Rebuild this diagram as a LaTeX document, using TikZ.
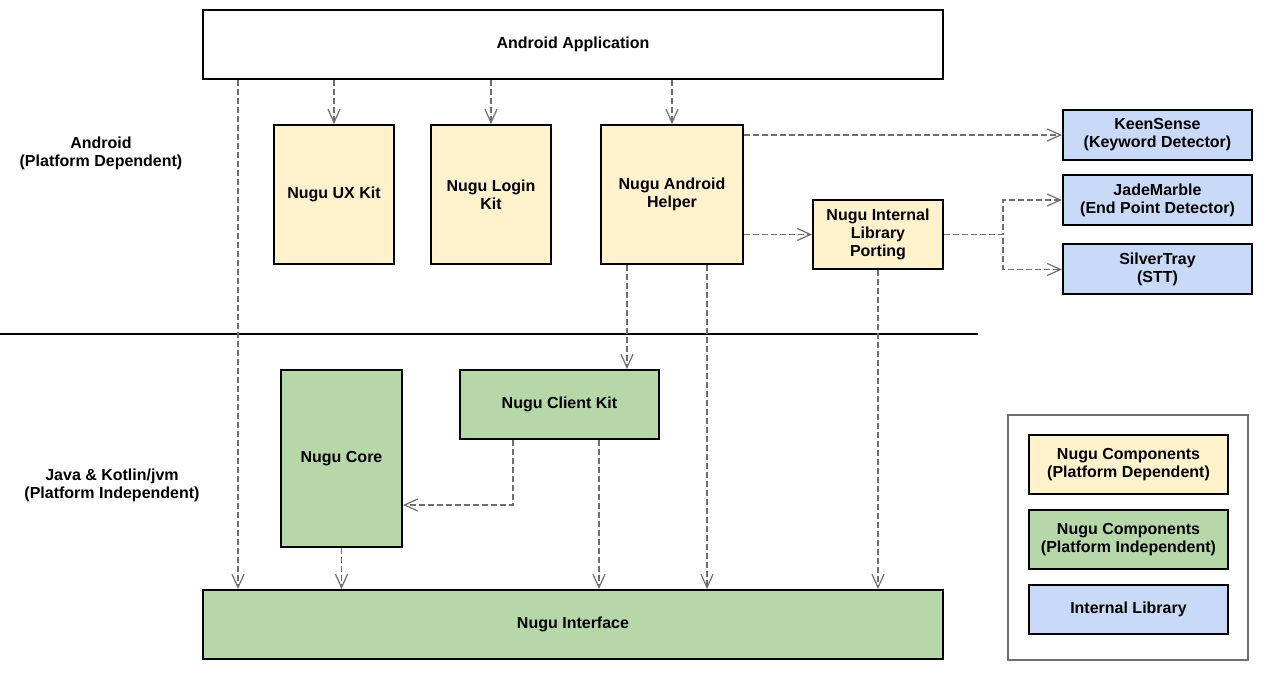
\documentclass[tikz,border=0pt]{standalone}
\usepackage{fontspec}
\setmainfont{Liberation Sans}
\usepackage{tikz}
\usetikzlibrary{arrows.meta, positioning, calc}
\usepackage{xcolor}
\definecolor{depyellow}{RGB}{255, 242, 204}
\definecolor{indepgreen}{RGB}{182, 215, 168}
\definecolor{libblue}{RGB}{201, 218, 248}
\definecolor{linkgray}{RGB}{110, 110, 110}

\begin{document}
\begin{tikzpicture}[
    x=0.75pt, y=-0.75pt,
    box/.style={rectangle, draw=black, line width=1.5pt, align=center, font=\fontsize{12}{13.5}\selectfont\bfseries, inner sep=2pt},
    plain/.style={box, fill=white},
    dep/.style={box, fill=depyellow},
    indep/.style={box, fill=indepgreen},
    lib/.style={box, fill=libblue},
    layer/.style={align=center, font=\fontsize{12}{13.5}\selectfont\bfseries},
    link/.style={draw=linkgray, line width=0.9pt, dash pattern=on 4.5pt off 2.25pt, -{Straight Barb[length=10pt, width=9pt]}}
]
    \useasboundingbox (0,0) rectangle (1278,680);

    % Android layer
    \node[plain, minimum width=555pt, minimum height=51.75pt] (app) at (573,44.5) {Android Application};
    \node[dep, minimum width=90pt, minimum height=104.25pt] (uxkit) at (334,194.5) {Nugu UX Kit};
    \node[dep, minimum width=90pt, minimum height=104.25pt] (loginkit) at (491,194.5) {Nugu Login\\Kit};
    \node[dep, minimum width=106.5pt, minimum height=104.25pt] (helper) at (672,194.5) {Nugu Android\\Helper};
    \node[dep, minimum width=97.5pt, minimum height=51.75pt] (porting) at (878,234.5) {Nugu Internal\\Library\\Porting};

    % Internal libraries
    \node[lib, minimum width=141.75pt, minimum height=37.5pt] (keensense) at (1157.5,135) {KeenSense\\(Keyword Detector)};
    \node[lib, minimum width=141.75pt, minimum height=37.5pt] (jademarble) at (1157.5,200) {JadeMarble\\(End Point Detector)};
    \node[lib, minimum width=141.75pt, minimum height=37.5pt] (silvertray) at (1157.5,269.5) {SilverTray\\(STT)};

    % Layer split
    \draw[line width=1pt] (0,334) -- (978,334);
    \node[layer] (androidlabel) at (101,153) {Android\\(Platform Dependent)};
    \node[layer] (jvmlabel) at (112,485) {Java \& Kotlin/jvm\\(Platform Independent)};

    % Java & Kotlin/jvm layer
    \node[indep, minimum width=90.75pt, minimum height=132.75pt] (core) at (341.5,458.5) {Nugu Core};
    \node[indep, minimum width=149.25pt, minimum height=51.75pt] (clientkit) at (559.5,404.5) {Nugu Client Kit};
    \node[indep, minimum width=555pt, minimum height=51.75pt] (iface) at (573,624.5) {Nugu Interface};

    % Legend
    \node[rectangle, draw=linkgray, line width=0.9pt, minimum width=180pt, minimum height=183.75pt] (legend) at (1128,537.5) {};
    \node[dep, minimum width=149.25pt, minimum height=44.25pt] (legdep) at (1128.5,464.5) {Nugu Components\\(Platform Dependent)};
    \node[indep, minimum width=149.25pt, minimum height=44.25pt] (legindep) at (1128.5,539.5) {Nugu Components\\(Platform Independent)};
    \node[lib, minimum width=149.25pt, minimum height=36.75pt] (leglib) at (1128.5,609.5) {Internal Library};

    % Dependencies
    \coordinate (appleft) at ($(app.south west)+(36,0)$);
    \coordinate (helperleft) at ($(helper.south west)+(27,0)$);
    \coordinate (helperright) at ($(helper.south)+(35,0)$);
    \coordinate (clientleft) at ($(clientkit.south west)+(54,0)$);
    \coordinate (clientright) at ($(clientkit.south west)+(140,0)$);

    \draw[link] (app.south -| uxkit) -- (uxkit.north);
    \draw[link] (app.south -| loginkit) -- (loginkit.north);
    \draw[link] (app.south -| helper) -- (helper.north);
    \draw[link] (appleft) -- (appleft |- iface.north);
    \draw[link] (helper.east |- keensense.west) -- (keensense.west);
    \draw[link] (helper.east |- porting) -- (porting.west);
    \draw[link] (porting.east) -- ++(59,0) |- (jademarble.west);
    \draw[link] (porting.east) -- ++(59,0) |- (silvertray.west);
    \draw[link] (helperleft) -- (helperleft |- clientkit.north);
    \draw[link] (helperright) -- (helperright |- iface.north);
    \draw[link] (porting.south) -- (porting.south |- iface.north);
    \draw[link] (clientleft) |- ($(core.east)+(0,46.5)$);
    \draw[link] (clientright) -- (clientright |- iface.north);
    \draw[link] (core.south) -- (core.south |- iface.north);

\end{tikzpicture}
\end{document}
